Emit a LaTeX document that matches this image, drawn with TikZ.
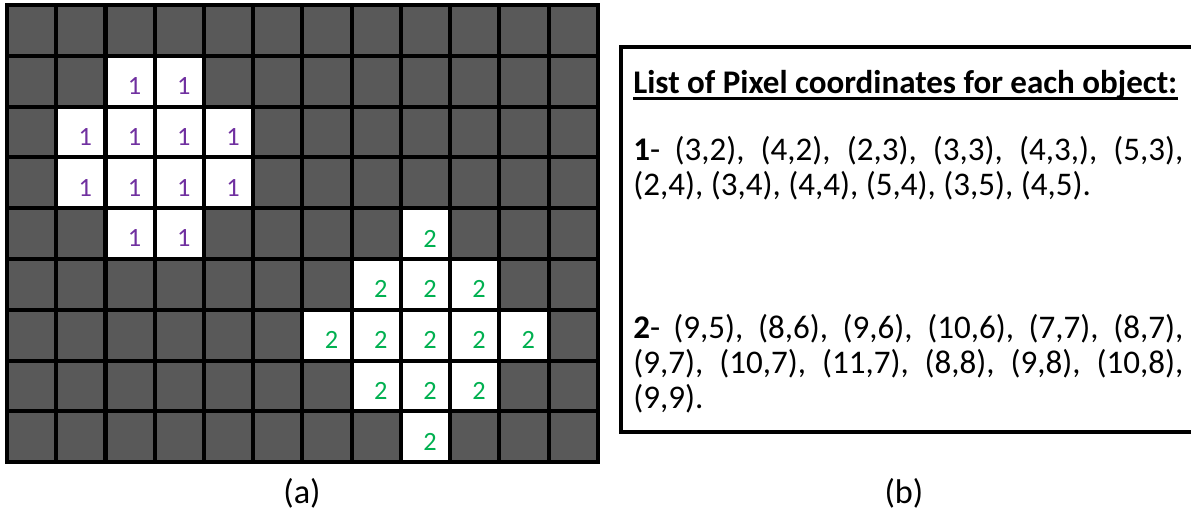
\documentclass[tikz,border=0pt]{standalone}
\usepackage{fontspec}
\setmainfont{Carlito}
\definecolor{pxgray}{HTML}{595959}
\definecolor{objone}{HTML}{7030A0}
\definecolor{objtwo}{HTML}{00B050}

\begin{document}
\begin{tikzpicture}[x=0.02cm, y=-0.02cm,
  gridline/.style={black, line width=2.3pt},
  pxnum/.style={font=\fontsize{15}{17}\selectfont, inner sep=0pt, xshift=2.5pt, yshift=-2.8pt},
  listtxt/.style={font=\fontsize{18.8}{20}\selectfont, inner sep=0pt, text width=11.0cm, align=justify, anchor=base west},
  caption/.style={font=\fontsize{19.5}{22}\selectfont}]

\useasboundingbox (0,0) rectangle (1191,512);

% ============================================================
% (a) pixel grid, 12 x 9 cells
% ============================================================
\begin{scope}[shift={(7,5)}, x=0.985cm, y=-1.016cm]
  \fill[pxgray] (0,0) rectangle (12,9);

  % object 1
  \foreach \c/\r in {3/2,4/2,2/3,3/3,4/3,5/3,2/4,3/4,4/4,5/4,3/5,4/5} {
    \fill[white] (\c-1,\r-1) rectangle (\c,\r);
    \node[pxnum, text=objone] (a\c-\r) at (\c-0.5,\r-0.5) {1};
  }

  % object 2
  \foreach \c/\r in {9/5,8/6,9/6,10/6,7/7,8/7,9/7,10/7,11/7,8/8,9/8,10/8,9/9} {
    \fill[white] (\c-1,\r-1) rectangle (\c,\r);
    \node[pxnum, text=objtwo] (b\c-\r) at (\c-0.5,\r-0.5) {2};
  }

  % grid lines
  \foreach \c in {1,...,11}
    \draw[gridline] (\c,0) -- (\c,9);
  \foreach \r in {1,...,8}
    \draw[gridline] (0,\r) -- (12,\r);
  \draw[gridline] (0,0) rectangle (12,9);
\end{scope}

% ============================================================
% (b) list of pixel coordinates
% ============================================================
\draw[black, line width=2.3pt] (1195,47) -- (621,47) -- (621,432) -- (1195,432);

\node[font=\fontsize{18.8}{20}\selectfont\bfseries, inner sep=0pt, anchor=base west] (title) at (633,93)
  {List of Pixel coordinates for each object:};
\draw[line width=1.8pt] ([yshift=-3.2pt]title.base west) -- ([yshift=-3.2pt]title.base east);

\node[listtxt] (list1) at (633,160)
  {\textbf{1}- (3,2), (4,2), (2,3), (3,3), (4,3,), (5,3),\linebreak
   (2,4), (3,4), (4,4), (5,4), (3,5), (4,5).};

\node[listtxt] (list2) at (633,338)
  {\textbf{2}- (9,5), (8,6), (9,6), (10,6), (7,7), (8,7),\linebreak
   (9,7), (10,7), (11,7), (8,8), (9,8), (10,8),\linebreak
   (9,9).};

% captions
\node[caption] (capa) at (302,493) {(a)};
\node[caption] (capb) at (904,493) {(b)};

\end{tikzpicture}
\end{document}
